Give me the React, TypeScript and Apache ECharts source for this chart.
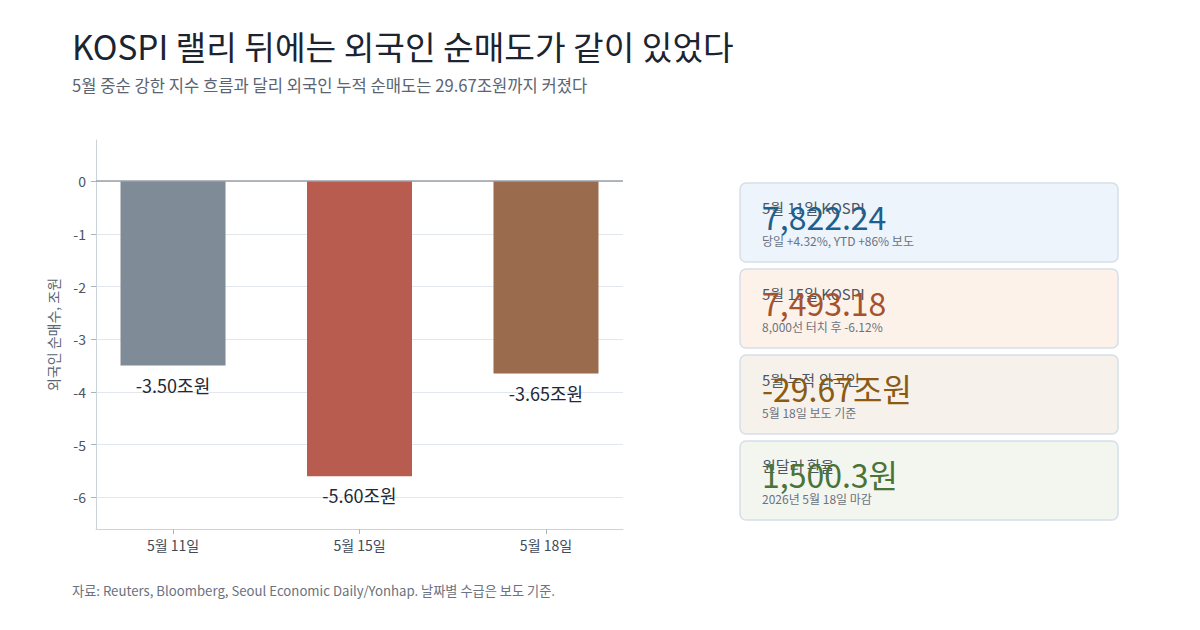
import React, { useEffect, useRef } from "react";
import * as echarts from "echarts";

const FONT = "'Noto Sans CJK KR', 'Noto Sans', sans-serif";

const titleText = "KOSPI 랠리 뒤에는 외국인 순매도가 같이 있었다";
const subtitleText = "5월 중순 강한 지수 흐름과 달리 외국인 누적 순매도는 29.67조원까지 커졌다";
const footerText = "자료: Reuters, Bloomberg, Seoul Economic Daily/Yonhap. 날짜별 수급은 보도 기준.";
const yAxisName = "외국인 순매수, 조원";

const categories = ["5월 11일", "5월 15일", "5월 18일"];
const netBuy = [-3.5, -5.6, -3.65];
const barColors = ["#7f8b96", "#b85c50", "#9a6b4d"];
const yTicks = [0, -1, -2, -3, -4, -5, -6];
const xTicks = [0, 1, 2];

const cardLabels = ["5월 11일 KOSPI", "5월 15일 KOSPI", "5월 누적 외국인", "원달러 환율"];
const cardValues = ["7,822.24", "7,493.18", "-29.67조원", "1,500.3원"];
const cardNotes = ["당일 +4.32%, YTD +86% 보도", "8,000선 터치 후 -6.12%", "5월 18일 보도 기준", "2026년 5월 18일 마감"];
const cardValueColors = ["#1f5f8b", "#a5522f", "#8c5a12", "#4a7338"];
const cardFills = ["#edf4fc", "#fdf2ea", "#f6f2eb", "#f3f6ef"];

export default function App() {
  const ref = useRef<HTMLDivElement>(null);
  useEffect(() => {
    document.body.style.margin = "0";
    if (!ref.current) return;
    const chart = echarts.init(ref.current, null, { renderer: "svg" });

    const cardX = 740;
    const cardW = 378;
    const cardH = 79;
    const cardY0 = 183;
    const cardStep = 86;
    const cards: any[] = [];
    cardLabels.forEach((label, i) => {
      const y = cardY0 + i * cardStep;
      cards.push({
        type: "rect",
        shape: { x: cardX, y, width: cardW, height: cardH, r: 6 },
        style: { fill: cardFills[i], stroke: "#d6dee8", lineWidth: 1.5 },
        silent: true,
      });
      cards.push({
        type: "text",
        x: cardX + 22,
        y: y + 24,
        style: { text: label, font: `15px ${FONT}`, fill: "#4b5563", textVerticalAlign: "middle" },
        silent: true,
      });
      cards.push({
        type: "text",
        x: cardX + 22,
        y: y + 33,
        style: { text: cardValues[i], font: `32px ${FONT}`, fill: cardValueColors[i], textVerticalAlign: "middle" },
        silent: true,
      });
      cards.push({
        type: "text",
        x: cardX + 22,
        y: y + 57,
        style: { text: cardNotes[i], font: `12px ${FONT}`, fill: "#6b7280", textVerticalAlign: "middle" },
        silent: true,
      });
    });

    chart.setOption({
      animation: false,
      backgroundColor: "#ffffff",
      textStyle: { fontFamily: FONT },
      grid: { left: 96, right: 577, top: 140, bottom: 101, containLabel: false },
      xAxis: {
        type: "value",
        min: -0.413,
        max: 2.413,
        axisLine: { show: true, onZero: false, lineStyle: { color: "#cbd3dd", width: 1 } },
        axisTick: { show: true, length: 5, lineStyle: { color: "#aab2bd" }, customValues: xTicks },
        axisLabel: {
          color: "#3f4a57",
          fontSize: 14,
          margin: 9,
          fontFamily: FONT,
          customValues: xTicks,
          formatter: (v: number) => categories[Math.round(v)] ?? "",
        },
        splitLine: { show: false },
      },
      yAxis: {
        type: "value",
        min: -6.6,
        max: 0.78,
        splitNumber: 7,
        minInterval: 1,
        maxInterval: 1,
        name: yAxisName,
        nameLocation: "middle",
        nameGap: 36,
        nameTextStyle: { color: "#5a6472", fontSize: 14, fontFamily: FONT },
        axisLine: { show: true, onZero: false, lineStyle: { color: "#cbd3dd", width: 1 } },
        axisTick: { show: true, length: 5, lineStyle: { color: "#aab2bd" }, customValues: yTicks },
        axisLabel: {
          color: "#4b5563",
          fontSize: 14,
          margin: 10,
          fontFamily: FONT,
          customValues: yTicks,
        },
        splitLine: { show: true, lineStyle: { color: "#e2e7ee", width: 1 } },
      },
      series: [
        {
          type: "bar",
          data: netBuy.map((v, i) => ({ value: [xTicks[i], v], itemStyle: { color: barColors[i] } })),
          barWidth: 105,
          label: {
            show: true,
            position: "bottom",
            distance: 10,
            color: "#1f2937",
            fontSize: 18,
            fontFamily: FONT,
            formatter: (p: any) => `${Number(p.value[1]).toFixed(2)}조원`,
          },
          markLine: {
            silent: true,
            symbol: "none",
            label: { show: false },
            lineStyle: { color: "#9aa1a9", width: 1.5, type: "solid" },
            data: [{ yAxis: 0 }],
          },
        },
      ],
      graphic: [
        {
          type: "text",
          x: 72,
          y: 45,
          style: { text: titleText, font: `33.3px ${FONT}`, fill: "#1b2430", textVerticalAlign: "middle" },
        },
        {
          type: "text",
          x: 72,
          y: 85,
          style: { text: subtitleText, font: `16.6px ${FONT}`, fill: "#5a6472", textVerticalAlign: "middle" },
        },
        {
          type: "text",
          x: 72,
          y: 590,
          style: { text: footerText, font: `13.2px ${FONT}`, fill: "#6b7280", textVerticalAlign: "middle" },
        },
        ...cards,
      ],
    });
    return () => chart.dispose();
  }, []);
  return <div ref={ref} style={{ width: 1200, height: 630 }} />;
}
